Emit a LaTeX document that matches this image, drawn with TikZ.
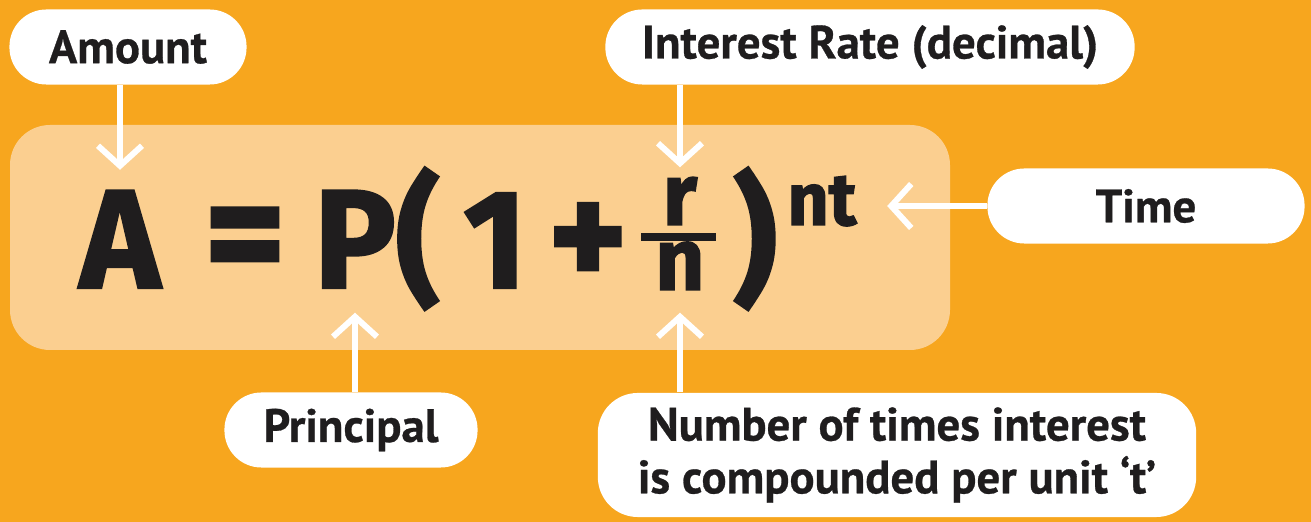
\documentclass[tikz,border=0pt]{standalone}
\usepackage{fontspec}
\usepackage{xcolor}
\newfontfamily\labelfont[FakeBold=0.6]{PT Sans}
\newfontfamily\formulafont[FakeStretch=0.97,FakeBold=1.6]{Fira Sans}
\usetikzlibrary{positioning,arrows.meta}
\definecolor{bgorange}{HTML}{F7A61E}
\definecolor{panelpeach}{HTML}{FBCF90}
\definecolor{inkdark}{HTML}{1F1D1E}

\begin{document}
\begin{tikzpicture}[x=0.01cm, y=-0.01cm,
    pill/.style={fill=white, rounded corners=3.7mm, minimum height=7.5mm,
      inner sep=0pt, text=inkdark, font=\labelfont\bfseries\fontsize{13.3}{15}\selectfont},
    glyph/.style={anchor=base, inner sep=0pt, text=inkdark,
      font=\formulafont\bfseries\fontsize{40}{40}\selectfont},
    small glyph/.style={glyph, font=\formulafont\bfseries\fontsize{25}{25}\selectfont},
    callout/.style={draw=white, line width=1.7pt,
      -{Straight Barb[length=2mm,width=4.4mm]}}]
  \useasboundingbox[fill=bgorange] (0,0) rectangle (1311,522);
  \fill[panelpeach, rounded corners=4mm] (10,125) rectangle (950,350);
  % formula
  \node[glyph] (A) at (120,288) {A};
  \node[glyph, font=\formulafont\bfseries\fontsize{46}{46}\selectfont] (eq) at (245,288) {=};
  \node[glyph] (P) at (355,288) {P};
  \node[glyph] (lpar) at (418,288) {(};
  \node[glyph] (one) at (495,288) {1};
  \node[glyph, font=\formulafont\bfseries\fontsize{44}{44}\selectfont] (plus) at (588,288) {+};
  \node[small glyph] (r) at (680,225) {r};
  \node[small glyph] (n) at (680,290) {n};
  \fill[inkdark] (641,233) rectangle (716,241);
  \node[glyph] (rpar) at (755,288) {)};
  \node[glyph, font=\formulafont\bfseries\fontsize{21}{21}\selectfont] (nt) at (822,225) {nt};
  % labels
  \node[pill, minimum width=23.7mm] (amount) at (128,47) {Amount};
  \node[pill, minimum width=52.9mm] (rate) at (870,47) {Interest Rate (decimal)};
  \node[pill, minimum width=31.7mm] (time) at (1146,206) {Time};
  \node[pill, minimum width=25.3mm] (principal) at (351,430) {Principal};
  \node[pill, minimum width=59.8mm, minimum height=12.4mm, rounded corners=4mm,
    align=center] (times) at (897,455) {Number of times interest\\is compounded per unit ‘t’};
  % arrows
  \draw[callout, shorten >=2mm] (A.north |- amount.south) -- (A.north);
  \draw[callout, shorten >=0.9mm] (r.north |- rate.south) -- (r.north);
  \draw[callout, shorten >=3mm] (time.west) -- (nt.east |- time.west);
  \draw[callout, shorten >=2.4mm] (P.south |- principal.north) -- (P.south);
  \draw[callout, shorten >=2.2mm] (n.south |- times.north) -- (n.south);
\end{tikzpicture}
\end{document}
